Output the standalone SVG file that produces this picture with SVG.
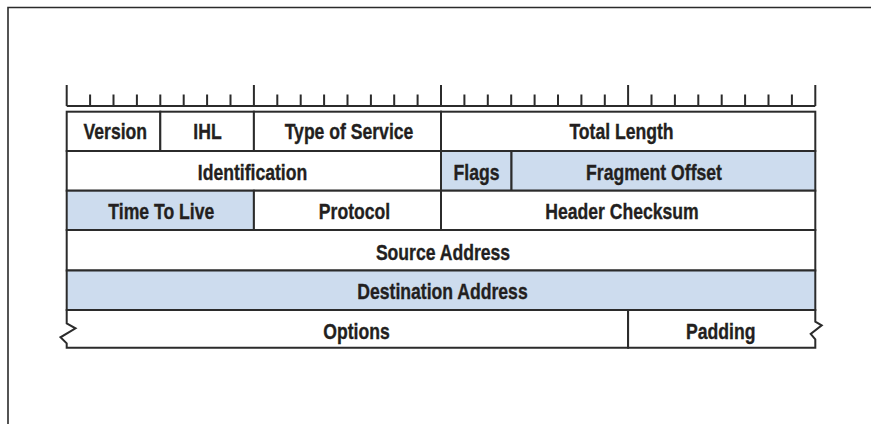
<svg xmlns="http://www.w3.org/2000/svg" width="871" height="424" viewBox="0 0 871 424">
  <style>
    .frame { fill: none; stroke: #2b2b2b; stroke-width: 1.6; }
    .rule { fill: none; stroke: #2b2b2b; stroke-width: 2; }
    .cell { fill: #ffffff; stroke: #2b2b2b; stroke-width: 2; }
    .blue { fill: #cddcee; }
    .lbl { font-family: "Liberation Sans", Arial, Helvetica, sans-serif; font-weight: bold; font-size: 22px; fill: #231f20; stroke: #231f20; stroke-width: 0.35; text-anchor: middle; }
  </style>

  <rect width="871" height="424" fill="#ffffff"/>
  <!-- outer frame (top and left edges) -->
  <path class="frame" d="M8,424 V7.5 H871"/>

  <!-- bit ruler: 32 bits, major ticks every 8 bits -->
  <g id="ruler">
    <path class="rule" d="M66.7,106 H815.3
      M66.7,106 V85 M253.9,106 V85 M441,106 V85 M628.1,106 V85 M815.3,106 V85
      M90.1,106 V94.5 M113.5,106 V94.5 M136.9,106 V94.5 M160.3,106 V94.5 M183.7,106 V94.5 M207.1,106 V94.5 M230.5,106 V94.5
      M277.3,106 V94.5 M300.7,106 V94.5 M324.1,106 V94.5 M347.5,106 V94.5 M370.9,106 V94.5 M394.2,106 V94.5 M417.6,106 V94.5
      M464.4,106 V94.5 M487.8,106 V94.5 M511.2,106 V94.5 M534.6,106 V94.5 M558,106 V94.5 M581.4,106 V94.5 M604.8,106 V94.5
      M651.5,106 V94.5 M674.9,106 V94.5 M698.3,106 V94.5 M721.7,106 V94.5 M745.1,106 V94.5 M768.5,106 V94.5 M791.9,106 V94.5"/>
  </g>

  <!-- row 1 -->
  <g id="version">
    <rect class="cell" x="66.7" y="111.7" width="93.6" height="39.3"/>
    <text class="lbl" transform="translate(115.3,139) scale(0.8,1)">Version</text>
  </g>
  <g id="ihl">
    <rect class="cell" x="160.3" y="111.7" width="93.6" height="39.3"/>
    <text class="lbl" transform="translate(207.5,139) scale(0.8,1)">IHL</text>
  </g>
  <g id="type-of-service">
    <rect class="cell" x="253.9" y="111.7" width="187.1" height="39.3"/>
    <text class="lbl" transform="translate(349,139) scale(0.8,1)">Type of Service</text>
  </g>
  <g id="total-length">
    <rect class="cell" x="441" y="111.7" width="374.3" height="39.3"/>
    <text class="lbl" transform="translate(621.5,139) scale(0.8,1)">Total Length</text>
  </g>

  <!-- row 2 -->
  <g id="identification">
    <rect class="cell" x="66.7" y="151" width="374.3" height="39.7"/>
    <text class="lbl" transform="translate(252.5,179.5) scale(0.8,1)">Identification</text>
  </g>
  <g id="flags">
    <rect class="cell blue" x="441" y="151" width="70.5" height="39.7"/>
    <text class="lbl" transform="translate(476.5,179.5) scale(0.8,1)">Flags</text>
  </g>
  <g id="fragment-offset">
    <rect class="cell blue" x="511.5" y="151" width="303.8" height="39.7"/>
    <text class="lbl" transform="translate(654,179.5) scale(0.8,1)">Fragment Offset</text>
  </g>

  <!-- row 3 -->
  <g id="time-to-live">
    <rect class="cell blue" x="66.7" y="190.7" width="187.2" height="39.3"/>
    <text class="lbl" transform="translate(161.3,218.5) scale(0.8,1)">Time To Live</text>
  </g>
  <g id="protocol">
    <rect class="cell" x="253.9" y="190.7" width="187.1" height="39.3"/>
    <text class="lbl" transform="translate(354.5,218.5) scale(0.8,1)">Protocol</text>
  </g>
  <g id="header-checksum">
    <rect class="cell" x="441" y="190.7" width="374.3" height="39.3"/>
    <text class="lbl" transform="translate(622,218.5) scale(0.8,1)">Header Checksum</text>
  </g>

  <!-- row 4 -->
  <g id="source-address">
    <rect class="cell" x="66.7" y="230" width="748.6" height="40.5"/>
    <text class="lbl" transform="translate(443,259.5) scale(0.8,1)">Source Address</text>
  </g>

  <!-- row 5 -->
  <g id="destination-address">
    <rect class="cell blue" x="66.7" y="270.5" width="748.6" height="39.5"/>
    <text class="lbl" transform="translate(442.5,298.5) scale(0.8,1)">Destination Address</text>
  </g>

  <!-- row 6: variable-length options, open (zigzag) sides -->
  <g id="options">
    <path class="cell" d="M66.7,310 V323.3 L75.5,328.3 L60.5,337.3 L66.7,343.3 V347.7 H628.1 V310 Z"/>
    <text class="lbl" transform="translate(356.5,339) scale(0.8,1)">Options</text>
  </g>
  <g id="padding">
    <path class="cell" d="M628.1,310 H815.3 V321.7 L821.7,325.3 L810.7,334 L815.3,339.3 V347.7 H628.1 Z"/>
    <text class="lbl" transform="translate(720.8,339) scale(0.8,1)">Padding</text>
  </g>

  <!-- no connectors in a header layout -->
  <g id="connectors"/>
</svg>
